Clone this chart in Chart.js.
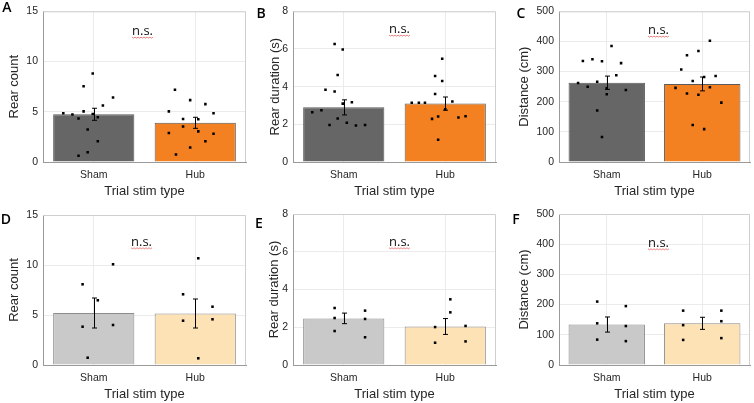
<!doctype html>
<html lang="en">
<head>
<meta charset="utf-8">
<title>Rearing and distance, Sham vs Hub</title>
<script src="https://cdn.jsdelivr.net/npm/chart.js@4.4.1/dist/chart.umd.min.js"></script>
<style>
  body { margin:0; background:#fff; }
  #wrap { position:relative; width:754px; height:403px; overflow:hidden; }
  canvas { position:absolute; }
</style>
</head>
<body>
<div id="wrap"></div>
<script>
// ---- data ----
const categories = ['Sham', 'Hub'];
const xTitle = 'Trial stim type';
const panelLetters = ['A', 'B', 'C', 'D', 'E', 'F'];
const yTitles = ['Rear count', 'Rear duration (s)', 'Distance (cm)', 'Rear count', 'Rear duration (s)', 'Distance (cm)'];
const yMax = [15, 8, 500, 15, 8, 500];
const yStep = [5, 2, 100, 5, 2, 100];

// bar heights (means) and error half-lengths, [Sham, Hub]
const meanA = [4.75, 3.9],  semA = [0.6, 0.55];
const meanB = [2.9, 3.1],   semB = [0.4, 0.35];
const meanC = [263, 259],   semC = [22, 23];
const meanD = [5.2, 5.15],  semD = [1.5, 1.45];
const meanE = [2.47, 2.04], semE = [0.28, 0.42];
const meanF = [134, 138],   semF = [25, 20];

// individual points: [horizontal offset from category centre, value]
const ptsAsham = [[-0.30,4.85],[-0.21,4.72],[-0.15,4.32],[-0.10,5.04],[-0.10,7.53],[-0.06,3.24],[-0.06,0.98],[-0.15,0.62],[-0.01,8.81],[-0.01,4.78],[0.04,4.45],[0.04,2.06],[0.09,5.63],[0.19,6.42]];
const ptsAhub  = [[-0.26,5.04],[-0.26,2.88],[-0.20,7.2],[-0.19,0.75],[-0.12,4.29],[-0.12,3.54],[-0.05,6.16],[-0.05,1.44],[0.03,4.26],[0.03,3.05],[0.10,5.76],[0.10,2.06],[0.18,4.85],[0.18,2.82]];
const ptsBsham = [[-0.31,2.64],[-0.22,2.75],[-0.18,3.84],[-0.14,1.96],[-0.09,6.26],[-0.09,3.74],[-0.06,4.62],[-0.06,2.31],[-0.01,5.97],[-0.01,3.10],[0.03,2.08],[0.08,3.17],[0.12,1.94],[0.21,1.96]];
const ptsBhub  = [[-0.33,3.15],[-0.26,3.14],[-0.20,3.14],[-0.13,2.29],[-0.10,4.56],[-0.10,3.61],[-0.07,2.41],[-0.07,1.18],[-0.03,5.48],[-0.03,4.30],[0.00,2.80],[0.07,3.21],[0.13,2.36],[0.20,2.43]];
const ptsCsham = [[-0.30,262],[-0.25,335],[-0.20,250],[-0.15,341],[-0.10,266],[-0.10,171],[-0.05,334],[-0.05,83],[0.00,245],[0.00,225],[0.05,385],[0.10,288],[0.15,328],[0.20,239]];
const ptsChub  = [[-0.28,246],[-0.22,307],[-0.16,227],[-0.16,354],[-0.10,269],[-0.10,123],[-0.04,223],[-0.04,368],[0.02,282],[0.02,109],[0.08,402],[0.08,248],[0.14,285],[0.20,197]];
const ptsDsham = [[-0.11,8.07],[-0.11,3.83],[-0.06,0.73],[0.04,6.47],[0.19,10.07],[0.19,4.0]];
const ptsDhub  = [[-0.12,7.07],[-0.12,4.43],[0.03,10.67],[0.03,0.67],[0.17,5.83],[0.17,4.57]];
const ptsEsham = [[-0.09,3.02],[-0.09,2.49],[-0.09,1.80],[0.21,2.88],[0.21,2.44],[0.21,1.47]];
const ptsEhub  = [[-0.10,2.01],[-0.10,1.18],[0.05,3.48],[0.05,2.79],[0.20,2.07],[0.20,1.25]];
const ptsFsham = [[-0.10,210],[-0.10,138],[-0.10,84],[0.20,195],[0.20,129],[0.20,79]];
const ptsFhub  = [[-0.20,180],[-0.20,132],[-0.20,83],[0.20,180],[0.20,145],[0.20,89]];

const means = [meanA, meanB, meanC, meanD, meanE, meanF];
const sems = [semA, semB, semC, semD, semE, semF];
const points = [[ptsAsham, ptsAhub], [ptsBsham, ptsBhub], [ptsCsham, ptsChub],
                [ptsDsham, ptsDhub], [ptsEsham, ptsEhub], [ptsFsham, ptsFhub]];

// ---- looks ----
const allColors = ['#666666', '#f38121'];
const subsetColors = ['#c9c9c9', '#fde2b6'];
const gridColor = '#ebebeb';
const axisColor = '#9a9a9a';
const boxColor = '#cfcfcf';
const textColor = '#262626';
const fontFam = 'Arial, "Liberation Sans", Helvetica, sans-serif';

// canvas placement and plot-area targets per panel
const layout = [
  {x:0,   y:0,   w:250, h:200, l:43, r:247, t:9,  b:162, tPad:7,  lx:7,  ly:8,  nsDx:-2, nsDy:20},
  {x:250, y:0,   w:250, h:200, l:43, r:248, t:11, b:162, tPad:18, lx:11, ly:14, nsDx:5,  nsDy:18},
  {x:500, y:0,   w:254, h:200, l:59, r:250, t:10, b:162, tPad:17, lx:21, ly:14, nsDx:4,  nsDy:19},
  {x:0,   y:200, w:250, h:203, l:43, r:247, t:15, b:165, tPad:7,  lx:6,  ly:20, nsDx:-3, nsDy:27},
  {x:250, y:200, w:250, h:203, l:43, r:248, t:14, b:165, tPad:17, lx:9,  ly:24, nsDx:5,  nsDy:28},
  {x:500, y:200, w:254, h:203, l:59, r:250, t:14, b:165, tPad:17, lx:16, ly:20, nsDx:4,  nsDy:29}
];

const panelDecor = {
  id: 'panelDecor',
  afterDatasetsDraw(chart, args, opts) {
    const ctx = chart.ctx, a = chart.chartArea;
    const xs = chart.scales.x, ys = chart.scales.y;
    ctx.save();
    // top and right box lines
    ctx.strokeStyle = boxColor;
    ctx.lineWidth = 1;
    ctx.beginPath();
    ctx.moveTo(a.left, a.top + 0.5);
    ctx.lineTo(a.right - 0.5, a.top + 0.5);
    ctx.lineTo(a.right - 0.5, a.bottom);
    ctx.stroke();
    // error bars
    ctx.strokeStyle = '#000';
    opts.mean.forEach((m, i) => {
      const px = Math.round(xs.getPixelForValue(i)) + 0.5;
      const y1 = ys.getPixelForValue(m + opts.sem[i]);
      const y2 = ys.getPixelForValue(m - opts.sem[i]);
      ctx.beginPath();
      ctx.moveTo(px, y1); ctx.lineTo(px, y2);
      ctx.moveTo(px - 2.5, y1); ctx.lineTo(px + 2.5, y1);
      ctx.moveTo(px - 2.5, y2); ctx.lineTo(px + 2.5, y2);
      ctx.stroke();
    });
    // n.s. label with a wavy underline
    const nx = (a.left + a.right) / 2 + opts.nsDx;
    const ny = a.top + opts.nsDy;
    ctx.fillStyle = '#111';
    ctx.font = '13px "Open Sans", "Noto Sans", sans-serif';
    ctx.textAlign = 'center';
    ctx.textBaseline = 'middle';
    ctx.fillText('n.s.', nx, ny);
    ctx.strokeStyle = 'rgba(225,70,70,0.85)';
    ctx.lineWidth = 0.8;
    ctx.beginPath();
    for (let k = 0; k <= 14; k++) {
      const wx = nx - 10.5 + k * 1.5;
      const wy = ny + 6 + (k % 2 ? 0.8 : -0.2);
      if (k === 0) ctx.moveTo(wx, wy); else ctx.lineTo(wx, wy);
    }
    ctx.stroke();
    // panel letter
    ctx.fillStyle = '#000';
    ctx.font = '600 14px "Open Sans", "Noto Sans", sans-serif';
    ctx.fillText(opts.letter, opts.lx, opts.ly);
    ctx.restore();
  }
};

const wrap = document.getElementById('wrap');

layout.forEach((L, p) => {
  const cv = document.createElement('canvas');
  cv.width = L.w; cv.height = L.h;
  cv.style.left = L.x + 'px'; cv.style.top = L.y + 'px';
  cv.style.width = L.w + 'px'; cv.style.height = L.h + 'px';
  wrap.appendChild(cv);

  const colors = p < 3 ? allColors : subsetColors;
  const scatterData = [];
  points[p].forEach((grp, ci) => grp.forEach(pt => scatterData.push({x: ci + 1 + pt[0], y: pt[1]})));

  new Chart(cv.getContext('2d'), {
    type: 'bar',
    data: {
      labels: categories,
      datasets: [
        {
          type: 'bar',
          data: means[p],
          backgroundColor: colors,
          borderColor: p < 3 ? '#5a5a5a' : '#8c8c8c',
          borderWidth: 1,
          grouped: false,
          barPercentage: 0.8,
          categoryPercentage: 1,
          order: 2
        },
        {
          type: 'scatter',
          xAxisID: 'xs',
          data: scatterData,
          pointStyle: 'rect',
          pointRadius: 1.8,
          pointBorderWidth: 0,
          backgroundColor: '#000',
          borderColor: '#000',
          order: 1
        }
      ]
    },
    options: {
      responsive: false,
      animation: false,
      devicePixelRatio: 1,
      layout: { padding: { left: 0, top: L.t, right: L.w - L.r, bottom: L.h - L.b - 38 } },
      scales: {
        x: {
          type: 'category',
          offset: true,
          grid: { offset: false, color: gridColor, drawTicks: false },
          border: { color: axisColor },
          ticks: { padding: 7, color: textColor, font: { family: fontFam, size: 10.5 } },
          title: { display: true, text: xTitle, color: textColor, padding: { top: 0, bottom: 1 },
                   font: { family: fontFam, size: 13 } },
          afterFit(s) { s.height = 38; }
        },
        xs: { type: 'linear', display: false, offset: false, min: 0.5, max: 2.5 },
        y: {
          min: 0, max: yMax[p],
          ticks: { stepSize: yStep[p], padding: 5, color: textColor, font: { family: fontFam, size: 10.5 } },
          grid: { color: gridColor, drawTicks: false },
          border: { color: axisColor },
          title: { display: true, text: yTitles[p], color: textColor, padding: { top: L.tPad, bottom: 0 },
                   font: { family: fontFam, size: 13 } },
          afterFit(s) { s.width = L.l; }
        }
      },
      plugins: {
        legend: { display: false },
        tooltip: { enabled: false },
        panelDecor: {
          mean: means[p], sem: sems[p], letter: panelLetters[p],
          lx: L.lx, ly: L.ly, nsDx: L.nsDx, nsDy: L.nsDy
        }
      }
    },
    plugins: [panelDecor]
  });
});
</script>
</body>
</html>
